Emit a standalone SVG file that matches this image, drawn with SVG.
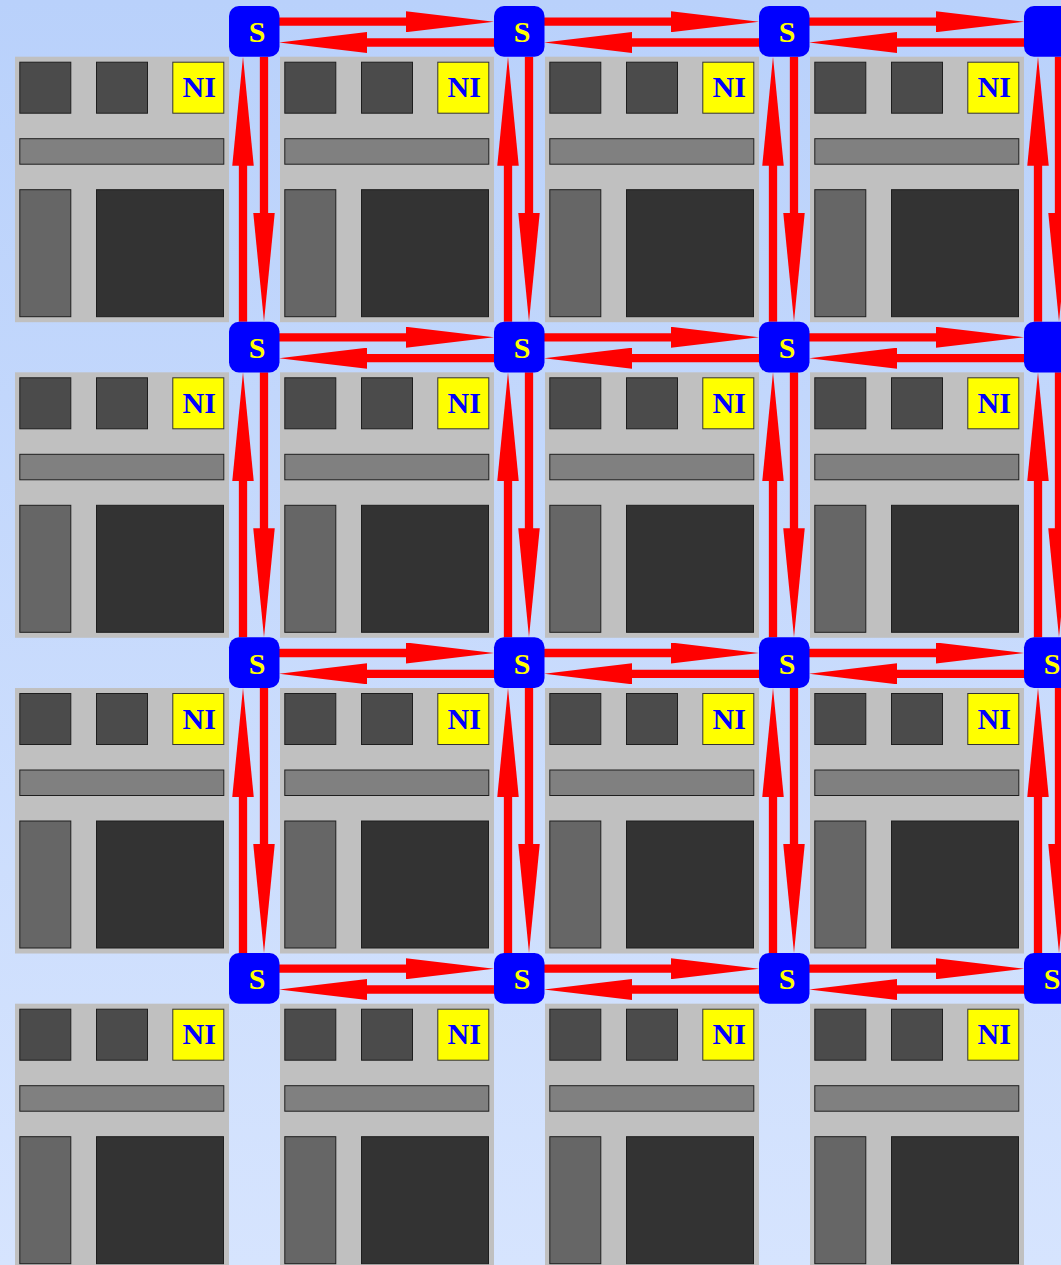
<svg xmlns="http://www.w3.org/2000/svg" xmlns:xlink="http://www.w3.org/1999/xlink" width="1061" height="1265" viewBox="0 0 1061 1265">
<style>
.tile{fill:#c0c0c0}
.in{stroke:#1e1e1e;stroke-width:1}
.sq{fill:#4b4b4b}
.bar{fill:#808080}
.lowl{fill:#666666}
.lowr{fill:#333333}
.ni{fill:#ffff00;stroke:#333;stroke-width:1}
.nit{font-family:"Liberation Serif",serif;font-weight:bold;font-size:30px;fill:#0000ff;text-anchor:middle}
.sw{fill:#0000ff}
.st{font-family:"Liberation Serif",serif;font-weight:bold;font-size:30px;fill:#ffff00;text-anchor:middle}
.h{stroke:#ff0000;stroke-width:8.3;fill:none;marker-end:url(#ah)}
.v{stroke:#ff0000;stroke-width:8.3;fill:none;marker-end:url(#av)}
</style>
<defs>
<linearGradient id="bg" x1="0" y1="0" x2="0" y2="1">
<stop offset="0" stop-color="#b9d1fb"/>
<stop offset="1" stop-color="#d6e4fe"/>
</linearGradient>
<marker id="ah" markerUnits="userSpaceOnUse" orient="auto" markerWidth="88" markerHeight="21" viewBox="0 0 88 21" refX="1" refY="10.5">
<path d="M0,0 L88,10.5 L0,21 Z" fill="#ff0000"/>
</marker>
<marker id="av" markerUnits="userSpaceOnUse" orient="auto" markerWidth="109" markerHeight="21.5" viewBox="0 0 109 21.5" refX="1" refY="10.75">
<path d="M0,0 L109,10.75 L0,21.5 Z" fill="#ff0000"/>
</marker>
<g id="tb">
<rect class="tile" x="0" y="0" width="214" height="265.5"/>
<rect class="in sq" x="4.8" y="5.5" width="51" height="51"/>
<rect class="in sq" x="81.5" y="5.5" width="51" height="51"/>
<rect class="ni" x="157.8" y="5.5" width="51" height="51"/>
<rect class="in bar" x="4.8" y="82" width="204" height="25.5"/>
<rect class="in lowl" x="4.8" y="133" width="51" height="127"/>
<rect class="in lowr" x="81.5" y="133" width="127" height="127"/>
<text class="nit" x="184.2" y="40.6">NI</text>
</g>
</defs>
<rect x="0" y="0" width="1061" height="1265" fill="url(#bg)"/>
<g id="tiles">
<g id="tile-0-0"><use xlink:href="#tb" href="#tb" x="15" y="56.7"/></g>
<g id="tile-0-1"><use xlink:href="#tb" href="#tb" x="280" y="56.7"/></g>
<g id="tile-0-2"><use xlink:href="#tb" href="#tb" x="545" y="56.7"/></g>
<g id="tile-0-3"><use xlink:href="#tb" href="#tb" x="810" y="56.7"/></g>
<g id="tile-1-0"><use xlink:href="#tb" href="#tb" x="15" y="372.3"/></g>
<g id="tile-1-1"><use xlink:href="#tb" href="#tb" x="280" y="372.3"/></g>
<g id="tile-1-2"><use xlink:href="#tb" href="#tb" x="545" y="372.3"/></g>
<g id="tile-1-3"><use xlink:href="#tb" href="#tb" x="810" y="372.3"/></g>
<g id="tile-2-0"><use xlink:href="#tb" href="#tb" x="15" y="688"/></g>
<g id="tile-2-1"><use xlink:href="#tb" href="#tb" x="280" y="688"/></g>
<g id="tile-2-2"><use xlink:href="#tb" href="#tb" x="545" y="688"/></g>
<g id="tile-2-3"><use xlink:href="#tb" href="#tb" x="810" y="688"/></g>
<g id="tile-3-0"><use xlink:href="#tb" href="#tb" x="15" y="1003.7"/></g>
<g id="tile-3-1"><use xlink:href="#tb" href="#tb" x="280" y="1003.7"/></g>
<g id="tile-3-2"><use xlink:href="#tb" href="#tb" x="545" y="1003.7"/></g>
<g id="tile-3-3"><use xlink:href="#tb" href="#tb" x="810" y="1003.7"/></g>
</g>
<g id="connectors">
<line class="h" x1="279" y1="21.7" x2="407" y2="21.7"/>
<line class="h" x1="544" y1="21.7" x2="672" y2="21.7"/>
<line class="h" x1="809" y1="21.7" x2="937" y2="21.7"/>
<line class="h" x1="494" y1="42.5" x2="366" y2="42.5"/>
<line class="h" x1="759" y1="42.5" x2="631" y2="42.5"/>
<line class="h" x1="1024" y1="42.5" x2="896" y2="42.5"/>
<line class="h" x1="279" y1="337.3" x2="407" y2="337.3"/>
<line class="h" x1="544" y1="337.3" x2="672" y2="337.3"/>
<line class="h" x1="809" y1="337.3" x2="937" y2="337.3"/>
<line class="h" x1="494" y1="358.2" x2="366" y2="358.2"/>
<line class="h" x1="759" y1="358.2" x2="631" y2="358.2"/>
<line class="h" x1="1024" y1="358.2" x2="896" y2="358.2"/>
<line class="h" x1="279" y1="653" x2="407" y2="653"/>
<line class="h" x1="544" y1="653" x2="672" y2="653"/>
<line class="h" x1="809" y1="653" x2="937" y2="653"/>
<line class="h" x1="494" y1="673.8" x2="366" y2="673.8"/>
<line class="h" x1="759" y1="673.8" x2="631" y2="673.8"/>
<line class="h" x1="1024" y1="673.8" x2="896" y2="673.8"/>
<line class="h" x1="279" y1="968.7" x2="407" y2="968.7"/>
<line class="h" x1="544" y1="968.7" x2="672" y2="968.7"/>
<line class="h" x1="809" y1="968.7" x2="937" y2="968.7"/>
<line class="h" x1="494" y1="989.5" x2="366" y2="989.5"/>
<line class="h" x1="759" y1="989.5" x2="631" y2="989.5"/>
<line class="h" x1="1024" y1="989.5" x2="896" y2="989.5"/>
<line class="v" x1="264" y1="56.7" x2="264" y2="213.7"/>
<line class="v" x1="529" y1="56.7" x2="529" y2="213.7"/>
<line class="v" x1="794" y1="56.7" x2="794" y2="213.7"/>
<line class="v" x1="1059" y1="56.7" x2="1059" y2="213.7"/>
<line class="v" x1="264" y1="372.3" x2="264" y2="529.3"/>
<line class="v" x1="529" y1="372.3" x2="529" y2="529.3"/>
<line class="v" x1="794" y1="372.3" x2="794" y2="529.3"/>
<line class="v" x1="1059" y1="372.3" x2="1059" y2="529.3"/>
<line class="v" x1="264" y1="688" x2="264" y2="845"/>
<line class="v" x1="529" y1="688" x2="529" y2="845"/>
<line class="v" x1="794" y1="688" x2="794" y2="845"/>
<line class="v" x1="1059" y1="688" x2="1059" y2="845"/>
<line class="v" x1="243" y1="321.7" x2="243" y2="164.7"/>
<line class="v" x1="508" y1="321.7" x2="508" y2="164.7"/>
<line class="v" x1="773" y1="321.7" x2="773" y2="164.7"/>
<line class="v" x1="1038" y1="321.7" x2="1038" y2="164.7"/>
<line class="v" x1="243" y1="637.3" x2="243" y2="480.3"/>
<line class="v" x1="508" y1="637.3" x2="508" y2="480.3"/>
<line class="v" x1="773" y1="637.3" x2="773" y2="480.3"/>
<line class="v" x1="1038" y1="637.3" x2="1038" y2="480.3"/>
<line class="v" x1="243" y1="953" x2="243" y2="796"/>
<line class="v" x1="508" y1="953" x2="508" y2="796"/>
<line class="v" x1="773" y1="953" x2="773" y2="796"/>
<line class="v" x1="1038" y1="953" x2="1038" y2="796"/>
</g>
<g id="switches">
<g id="s-0-0"><rect class="sw" x="229" y="6" width="50.5" height="50.7" rx="10"/><text class="st" x="257" y="42.3">S</text></g>
<g id="s-0-1"><rect class="sw" x="494" y="6" width="50.5" height="50.7" rx="10"/><text class="st" x="522" y="42.3">S</text></g>
<g id="s-0-2"><rect class="sw" x="759" y="6" width="50.5" height="50.7" rx="10"/><text class="st" x="787" y="42.3">S</text></g>
<g id="s-0-3"><rect class="sw" x="1024" y="6" width="50.5" height="50.7" rx="10"/></g>
<g id="s-1-0"><rect class="sw" x="229" y="321.7" width="50.5" height="50.7" rx="10"/><text class="st" x="257" y="358">S</text></g>
<g id="s-1-1"><rect class="sw" x="494" y="321.7" width="50.5" height="50.7" rx="10"/><text class="st" x="522" y="358">S</text></g>
<g id="s-1-2"><rect class="sw" x="759" y="321.7" width="50.5" height="50.7" rx="10"/><text class="st" x="787" y="358">S</text></g>
<g id="s-1-3"><rect class="sw" x="1024" y="321.7" width="50.5" height="50.7" rx="10"/></g>
<g id="s-2-0"><rect class="sw" x="229" y="637.3" width="50.5" height="50.7" rx="10"/><text class="st" x="257" y="673.6">S</text></g>
<g id="s-2-1"><rect class="sw" x="494" y="637.3" width="50.5" height="50.7" rx="10"/><text class="st" x="522" y="673.6">S</text></g>
<g id="s-2-2"><rect class="sw" x="759" y="637.3" width="50.5" height="50.7" rx="10"/><text class="st" x="787" y="673.6">S</text></g>
<g id="s-2-3"><rect class="sw" x="1024" y="637.3" width="50.5" height="50.7" rx="10"/><text class="st" x="1052" y="673.6">S</text></g>
<g id="s-3-0"><rect class="sw" x="229" y="953" width="50.5" height="50.7" rx="10"/><text class="st" x="257" y="989.3">S</text></g>
<g id="s-3-1"><rect class="sw" x="494" y="953" width="50.5" height="50.7" rx="10"/><text class="st" x="522" y="989.3">S</text></g>
<g id="s-3-2"><rect class="sw" x="759" y="953" width="50.5" height="50.7" rx="10"/><text class="st" x="787" y="989.3">S</text></g>
<g id="s-3-3"><rect class="sw" x="1024" y="953" width="50.5" height="50.7" rx="10"/><text class="st" x="1052" y="989.3">S</text></g>
</g>
</svg>
